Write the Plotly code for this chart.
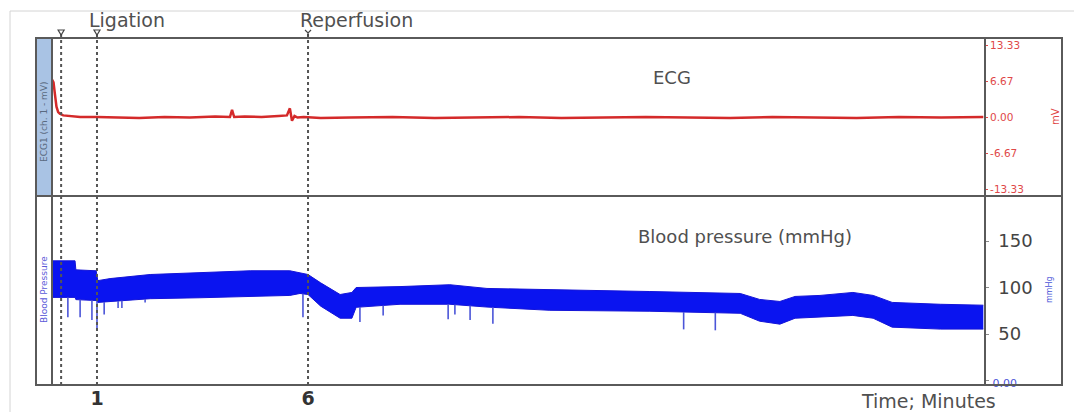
import numpy as np
import plotly.graph_objects as go

# ---------------- data (minutes / mmHg / mV) ----------------
bp_t = [-0.066, 0.48, 0.50, 0.98, 1.02, 1.31, 2.26, 3.44, 4.63, 5.57, 5.81, 6.0,
        6.3, 6.76, 7.04, 7.14, 8.18, 9.36, 10.24, 11.73, 14.1, 16.24, 16.7,
        17.18, 17.54, 18.13, 18.91, 19.39, 19.84, 20.98, 22.0]
bp_upper = [128.7, 128.7, 119, 118, 107.4, 109.6, 114, 116, 118, 118, 116, 114,
            105, 92.5, 94.7, 100, 101, 103, 99, 97.9, 95.7, 93.6, 87.2,
            85, 90.4, 91.5, 94.7, 91.5, 84, 82, 81]
bp_lower = [89.4, 89.4, 87, 86, 84, 85, 88, 89, 90.4, 91.5, 93.6, 92.5,
            80, 67, 67, 78.7, 82, 82, 79, 75.5, 74.5, 72.3, 63.8,
            60.6, 67, 68, 70, 67, 57.4, 55.3, 55.3]

spike_t = [0.31, 0.60, 0.88, 1.00, 1.17, 1.50, 1.59, 2.14, 5.88, 7.23, 7.78,
           9.32, 9.48, 9.84, 10.38, 14.9, 15.65]
spike_min = [68, 68, 65, 54, 71, 78, 78, 84, 68, 63, 70, 66, 71, 65, 61, 55, 54]

ecg_t = [-0.066, -0.03, 0.0, 0.04, 0.08, 0.12, 0.2, 0.35, 0.6, 1.0, 1.5, 2.0,
         2.6, 3.2, 3.8, 4.15, 4.2, 4.25, 4.5, 4.9, 5.3, 5.5, 5.57, 5.62, 5.68,
         5.75, 5.9, 6.3, 7, 8, 9, 10, 11, 12, 13, 14, 15, 16, 17, 18, 19, 20,
         21, 22.0]
ecg_v = [7.0, 6.5, 4.5, 2.0, 1.0, 0.7, 0.4, 0.3, 0.1, 0.1, 0.0, -0.1,
         0.1, 0.0, 0.2, 0.1, 1.4, 0.1, 0.2, 0.1, 0.3, 0.4, 1.7, -0.6, 0.3,
         0.0, 0.1, -0.1, 0.0, 0.1, -0.1, 0.0, 0.1, -0.1, 0.0, 0.1, 0.0, -0.1,
         0.1, 0.0, -0.1, 0.1, 0.0, 0.1]

event_times = [0.15, 1.0, 6.0]
event_kind = ["tri", "tri", "y"]
event_labels = ["", "Ligation", "Reperfusion"]

x_ticks = [1, 6]
x_ticktext = ["1", "6"]
ecg_ticks = [13.33, 6.67, 0.0, -6.67, -13.33]
ecg_ticktext = ["13.33", "6.67", "0.00", "-6.67", "-13.33"]
bp_ticks = [0, 50, 100, 150]
bp_ticktext = ['<span style="font-size:11px;color:#4b55d8">0.00</span>',
               "\u00a050", "\u00a0100", "\u00a0150"]

# ---------------- geometry (window pixels; page body has an 8px margin) ----------------
OFF = 8
WIN_W, WIN_H = 1082, 412
W, H = WIN_W - OFF, WIN_H - OFF
PL, PT, PR, PB = 52, 38, 985, 385          # plot area in window pixels
pw, ph = PR - PL, PB - PT
L, T = PL - OFF, PT - OFF
R, B = W - L - pw, H - T - ph
MPX = (PR - PL) / 22.106                    # px per minute (approx, for marker size)


def px(x):
    return (x - PL) / pw


def py(y):
    return (PB - y) / ph


split = py(196)
FONT = "DejaVu Sans"

fig = go.Figure()

# blood pressure band
fig.add_trace(go.Scatter(x=bp_t, y=bp_lower, mode="lines", xaxis="x", yaxis="y2",
                         line=dict(color="#1414d8", width=1), hoverinfo="skip"))
fig.add_trace(go.Scatter(x=bp_t, y=bp_upper, mode="lines", xaxis="x", yaxis="y2",
                         fill="tonexty", fillcolor="#0a14f0",
                         line=dict(color="#1414d8", width=1), hoverinfo="skip"))

# downward spikes
start = np.interp(spike_t, bp_t, bp_lower)
sx, sy = [], []
for t, s0, s1 in zip(spike_t, start, spike_min):
    sx += [t, t, None]
    sy += [s0, s1, None]
fig.add_trace(go.Scatter(x=sx, y=sy, mode="lines", xaxis="x", yaxis="y2",
                         line=dict(color="#4b55d8", width=1.6), hoverinfo="skip"))

# ECG
fig.add_trace(go.Scatter(x=ecg_t, y=ecg_v, mode="lines", xaxis="x", yaxis="y",
                         line=dict(color="#d42a2a", width=2.5), hoverinfo="skip"))

shapes = []
x_left = px(36)
x_right = px(1062)
# image border
shapes.append(dict(type="line", xref="paper", yref="paper", x0=px(10), x1=px(1090),
                   y0=py(11), y1=py(11), line=dict(color="#d4d4d4", width=1)))
shapes.append(dict(type="line", xref="paper", yref="paper", x0=px(10), x1=px(10),
                   y0=py(11), y1=py(420), line=dict(color="#d4d4d4", width=1)))
# blue strip
shapes.append(dict(type="rect", xref="paper", yref="paper", x0=x_left, x1=0,
                   y0=split, y1=1, fillcolor="#a9c3e4", line=dict(color="#555", width=1.5),
                   layer="below"))
# frame
shapes.append(dict(type="rect", xref="paper", yref="paper", x0=x_left, x1=x_right,
                   y0=0, y1=1, line=dict(color="#5a5a5a", width=2)))
shapes.append(dict(type="line", xref="paper", yref="paper", x0=x_left, x1=x_right,
                   y0=split, y1=split, line=dict(color="#5a5a5a", width=2)))
for xv in (0, 1):
    shapes.append(dict(type="line", xref="paper", yref="paper", x0=xv, x1=xv,
                       y0=0, y1=1, line=dict(color="#5a5a5a", width=2)))
# event lines + markers
hw = 3.0 / MPX
for t, kind in zip(event_times, event_kind):
    shapes.append(dict(type="line", xref="x", yref="paper", x0=t, x1=t,
                       y0=0, y1=py(33), line=dict(color="#555", width=2, dash="dot")))
    if kind == "tri":
        path = "M %f,%f L %f,%f L %f,%f Z" % (t - hw, py(30), t + hw, py(30), t, py(35))
    else:
        path = "M %f,%f L %f,%f L %f,%f M %f,%f L %f,%f" % (
            t - hw, py(30), t, py(33), t + hw, py(30), t, py(33), t, py(36))
    shapes.append(dict(type="path", xref="x", yref="paper", path=path,
                       line=dict(color="#444", width=1.2)))

annotations = []
for t, lab in zip(event_times, event_labels):
    if lab:
        annotations.append(dict(x=t, y=py(20), xref="x", yref="paper", text=lab,
                                showarrow=False, xanchor="left", yanchor="middle",
                                xshift=-10,
                                font=dict(family=FONT, size=19, color="#505050")))

fixed = [
    dict(x=px(672), y=py(77), text="ECG", font=dict(family=FONT, size=18, color="#505050")),
    dict(x=px(745), y=py(236), text="Blood pressure (mmHg)",
         font=dict(family=FONT, size=18, color="#505050")),
    dict(x=px(928), y=py(401), text="Time; Minutes",
         font=dict(family=FONT, size=19, color="#505050")),
    dict(x=px(1055), y=py(117), text="mV", textangle=-90,
         font=dict(family=FONT, size=10, color="#e04848")),
    dict(x=px(1049), y=py(290), text="mmHg", textangle=-90,
         font=dict(family=FONT, size=8, color="#4b55d8")),
    dict(x=px(44), y=py(122), text="ECG1 (ch. 1 - mV)", textangle=-90,
         font=dict(family=FONT, size=9, color="#5a6a80")),
    dict(x=px(44), y=py(290), text="Blood Pressure", textangle=-90,
         font=dict(family=FONT, size=9, color="#5a5ad8")),
]
for a in fixed:
    a.update(xref="paper", yref="paper", showarrow=False,
             xanchor="center", yanchor="middle")
annotations += fixed

fig.update_layout(
    width=W, height=H, autosize=False,
    margin=dict(l=L, r=R, t=T, b=B, pad=0),
    template="none",
    paper_bgcolor="white", plot_bgcolor="white",
    showlegend=False,
    font=dict(family=FONT),
    xaxis=dict(domain=[0, 1], anchor="y2", range=[-0.066, 22.04],
               tickvals=x_ticks, ticktext=["<b>%s</b>" % s for s in x_ticktext],
               tickfont=dict(family=FONT, size=19, color="#333"),
               ticks="", showgrid=False, zeroline=False, showline=False,
               automargin=False),
    yaxis=dict(domain=[split, 1], anchor="x", side="right", range=[-14.5, 14.7],
               tickvals=ecg_ticks, ticktext=ecg_ticktext,
               tickfont=dict(family=FONT, size=10.5, color="#e04848"),
               ticks="outside", ticklen=2, tickcolor="#e04848",
               showgrid=False, zeroline=False, showline=False, automargin=False),
    yaxis2=dict(domain=[0, split], anchor="x", side="right", range=[-4.8, 198.4],
                tickvals=bp_ticks, ticktext=bp_ticktext,
                tickfont=dict(family=FONT, size=18, color="#444"),
                ticks="outside", ticklen=3, tickcolor="#8a8a8a",
                showgrid=False, zeroline=False, showline=False, automargin=False),
    shapes=shapes,
    annotations=annotations,
)

fig.write_html("out.html")
